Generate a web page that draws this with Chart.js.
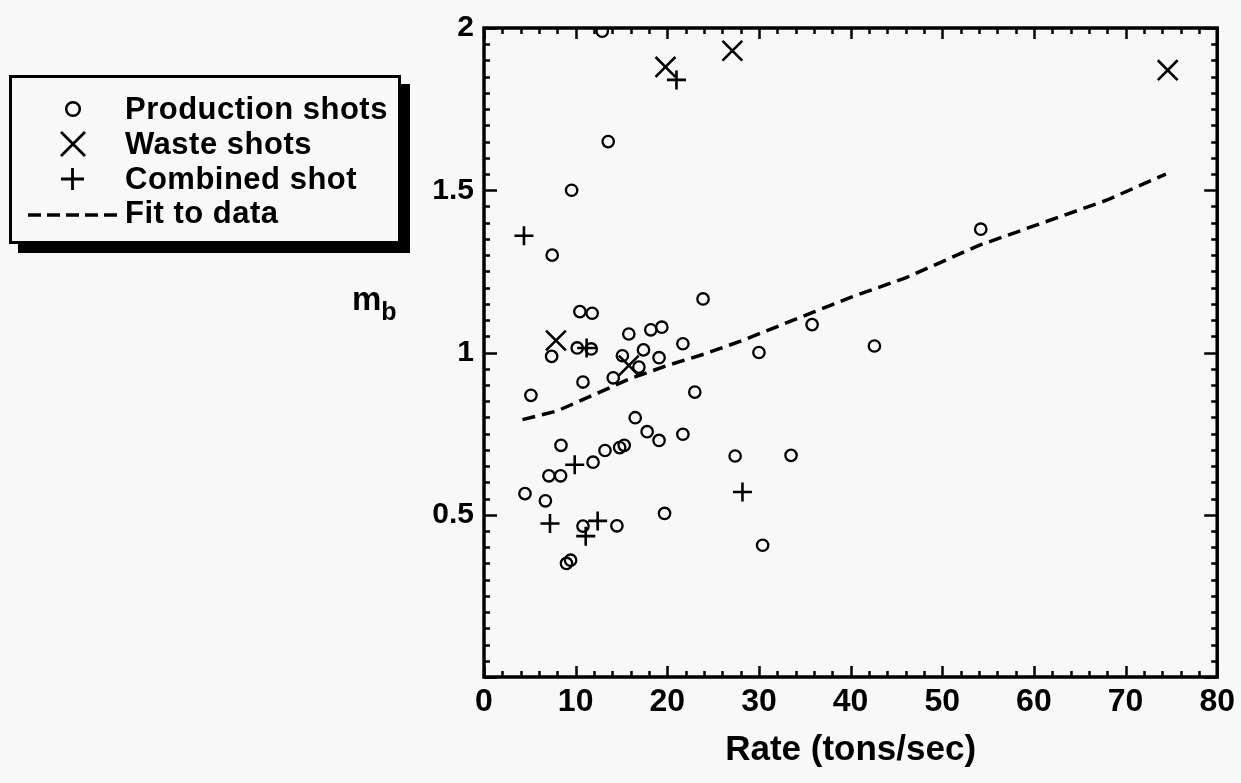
<!DOCTYPE html>
<html>
<head>
<meta charset="utf-8">
<script src="https://cdn.jsdelivr.net/npm/chart.js@4.4.1/dist/chart.umd.min.js"></script>
<style>
  body { margin: 0; background: #f7f8f7; font-family: "Liberation Sans", Arial, sans-serif; }
  #wrap { position: relative; width: 1241px; height: 783px; }
  #legendBox {
    position: absolute; left: 9px; top: 75px; width: 386px; height: 163px;
    border: 3px solid #000; box-shadow: 9px 9px 0 #000; background: #f7f8f7;
  }
  .row { position: absolute; left: 0; height: 35px; font-weight: bold; font-size: 31px; line-height: 35px; color: #000; letter-spacing: 0.5px; }
  .row svg { position: absolute; top: 0; }
  .row span { position: absolute; left: 113px; white-space: nowrap; }
  #ylab { position: absolute; left: 352px; top: 280px; font-weight: bold; font-size: 33px; }
  #ylab sub { font-size: 25px; vertical-align: -10px; }
</style>
</head>
<body>
<div id="wrap">
  <canvas id="scatterChart" width="1241" height="783"></canvas>
  <div id="legendBox">
    <div class="row" style="top:13px"><svg width="100" height="35"><circle cx="61" cy="18" r="6.8" fill="none" stroke="#000" stroke-width="2.5"/></svg><span>Production shots</span></div>
    <div class="row" style="top:48px"><svg width="100" height="35"><path d="M49 6 L73 30 M73 6 L49 30" stroke="#000" stroke-width="2.8"/></svg><span>Waste shots</span></div>
    <div class="row" style="top:83px"><svg width="100" height="35"><path d="M49 18 L72 18 M60.5 7 L60.5 29" stroke="#000" stroke-width="2.8"/></svg><span>Combined shot</span></div>
    <div class="row" style="top:117px"><svg width="110" height="35"><path d="M16 20 L108 20" stroke="#000" stroke-width="3.5" stroke-dasharray="13 6"/></svg><span>Fit to data</span></div>
  </div>
  <div id="ylab">m<sub>b</sub></div>
</div>
<script>
// production shots (o)
var prodX = [12.9, 13.55, 9.56, 7.44, 54.2, 23.9, 10.46, 11.8, 19.4, 18.2, 15.8, 35.8, 21.7, 42.6, 10.17, 11.7,
             17.4, 30.0, 7.38, 15.1, 19.1, 16.9, 14.1, 10.8, 5.12, 23.0, 16.5, 17.8, 19.1, 21.7, 8.4, 13.2,
             14.8, 15.3, 27.4, 33.5, 11.9, 7.08, 8.36, 4.47, 6.7, 10.8, 14.5, 19.7, 30.4, 9.0, 9.45];
var prodY = [1.99, 1.65, 1.50, 1.30, 1.38, 1.165, 1.126, 1.121, 1.078, 1.07, 1.057, 1.086, 1.027, 1.02, 1.014, 1.011,
             1.008, 1.0, 0.988, 0.99, 0.984, 0.955, 0.922, 0.909, 0.868, 0.878, 0.799, 0.756, 0.729, 0.748, 0.714, 0.698,
             0.707, 0.714, 0.681, 0.683, 0.662, 0.62, 0.62, 0.565, 0.543, 0.465, 0.466, 0.504, 0.406, 0.35, 0.36];

// waste shots (x)
var wasteX = [19.8, 27.1, 74.6, 7.85, 15.8];
var wasteY = [1.88, 1.93, 1.87, 1.037, 0.96];

// combined shot (+)
var combX = [21.0, 4.36, 11.2, 9.9, 7.2, 11.1, 12.4, 28.2];
var combY = [1.84, 1.36, 1.014, 0.654, 0.473, 0.434, 0.481, 0.570];

// fit to data (dashed)
var fitX = [4.2, 8, 12, 16, 20, 24, 28, 32, 36, 40, 46, 54, 60, 68, 74.4];
var fitY = [0.793, 0.82, 0.87, 0.92, 0.96, 0.995, 1.035, 1.08, 1.125, 1.17, 1.23, 1.33, 1.39, 1.47, 1.55];

var xTicks = [0, 10, 20, 30, 40, 50, 60, 70, 80];
var yTicks = [0.5, 1, 1.5, 2];

function pts(xs, ys) {
    return xs.map(function (x, i) { return { x: x, y: ys[i] }; });
}

// inward ticks on all four sides plus the frame
var frameTicks = {
    id: 'frameTicks',
    afterDraw: function (chart) {
        var c = chart.ctx, a = chart.chartArea;
        var xs = chart.scales.x, ys = chart.scales.y;
        c.save();
        c.strokeStyle = '#000';
        c.lineWidth = 2.5;
        for (var v = 0; v <= 80; v += 2) {
            var px = Math.round(xs.getPixelForValue(v)) + 0.5;
            var len = (v % 10 === 0) ? 11 : 6;
            c.beginPath();
            c.moveTo(px, a.bottom); c.lineTo(px, a.bottom - len);
            c.moveTo(px, a.top); c.lineTo(px, a.top + len);
            c.stroke();
        }
        for (var k = 0; k <= 40; k++) {
            var py = Math.round(ys.getPixelForValue(k * 0.05)) + 0.5;
            var ylen = (k % 10 === 0) ? 13 : 6;
            c.beginPath();
            c.moveTo(a.left, py); c.lineTo(a.left + ylen, py);
            c.moveTo(a.right, py); c.lineTo(a.right - ylen, py);
            c.stroke();
        }
        c.lineWidth = 3.5;
        c.strokeRect(a.left, a.top, a.right - a.left, a.bottom - a.top);
        c.restore();
    }
};

var ctx = document.getElementById('scatterChart').getContext('2d');
var chart = new Chart(ctx, {
    type: 'scatter',
    data: {
        datasets: [
            {
                label: 'Fit to data',
                data: pts(fitX, fitY),
                showLine: true,
                borderColor: '#000',
                borderWidth: 3.5,
                borderDash: [13, 7],
                pointRadius: 0,
                fill: false
            },
            {
                label: 'Production shots',
                data: pts(prodX, prodY),
                pointStyle: 'circle',
                pointRadius: 5.7,
                borderColor: '#000',
                backgroundColor: 'rgba(0,0,0,0)',
                borderWidth: 2.3
            },
            {
                label: 'Waste shots',
                data: pts(wasteX, wasteY),
                pointStyle: 'crossRot',
                pointRadius: 14,
                borderColor: '#000',
                borderWidth: 2.6
            },
            {
                label: 'Combined shot',
                data: pts(combX, combY),
                pointStyle: 'cross',
                pointRadius: 9.5,
                borderColor: '#000',
                borderWidth: 2.6
            }
        ]
    },
    options: {
        responsive: false,
        animation: false,
        devicePixelRatio: 1,
        layout: { padding: { left: 400, right: 23, top: 26, bottom: 0 } },
        plugins: {
            legend: { display: false },
            tooltip: { enabled: false }
        },
        scales: {
            x: {
                type: 'linear',
                min: 0, max: 80,
                afterFit: function (s) { s.height = 106; },
                afterBuildTicks: function (s) { s.ticks = xTicks.map(function (v) { return { value: v }; }); },
                grid: { display: false, drawTicks: false },
                border: { display: false },
                ticks: {
                    color: '#000',
                    padding: 6,
                    font: { family: "'Liberation Sans'", size: 32, weight: 'bold' }
                },
                title: {
                    display: true,
                    text: 'Rate (tons/sec)',
                    color: '#000',
                    padding: { top: 0, bottom: 12 },
                    font: { family: "'Liberation Sans'", size: 35, weight: 'bold' }
                }
            },
            y: {
                type: 'linear',
                min: 0, max: 2,
                afterFit: function (s) { s.width = 84; },
                afterBuildTicks: function (s) { s.ticks = yTicks.map(function (v) { return { value: v }; }); },
                grid: { display: false, drawTicks: false },
                border: { display: false },
                ticks: {
                    color: '#000',
                    padding: 10,
                    font: { family: "'Liberation Sans'", size: 30, weight: 'bold' },
                    callback: function (v) { return String(v); }
                }
            }
        }
    },
    plugins: [frameTicks]
});
</script>
</body>
</html>
